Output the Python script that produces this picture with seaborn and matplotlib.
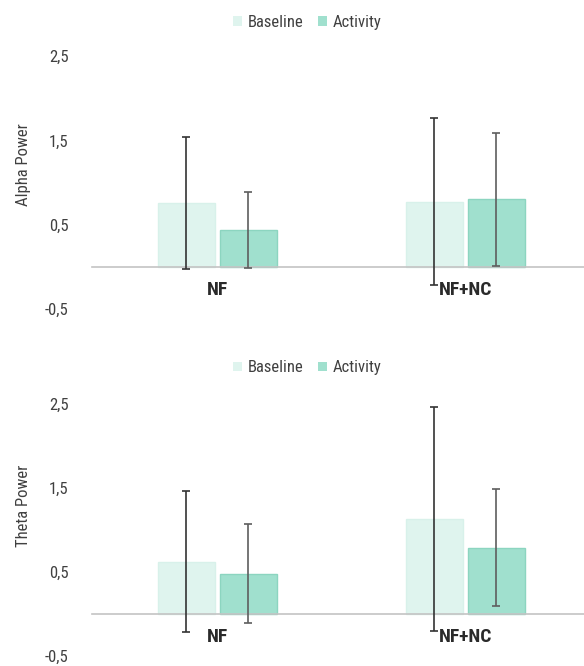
import matplotlib
matplotlib.use("Agg")
import matplotlib.pyplot as plt
import seaborn as sns
import pandas as pd
from matplotlib import font_manager

groups = ["NF", "NF+NC"]
conditions = ["Baseline", "Activity"]
alpha_baseline = [0.757, 0.77]
alpha_activity = [0.44, 0.80]
alpha_baseline_err = [0.78, 0.99]
alpha_activity_err = [0.45, 0.79]
theta_baseline = [0.62, 1.13]
theta_activity = [0.48, 0.79]
theta_baseline_err = [0.84, 1.33]
theta_activity_err = [0.59, 0.70]
yticks = [-0.5, 0.5, 1.5, 2.5]
ytick_labels = ["-0,5", "0,5", "1,5", "2,5"]

sns.set_theme(style="white")
names = {f.name for f in font_manager.fontManager.ttflist}
fam = "DejaVu Sans"
for cand in ["Liberation Sans Narrow", "Roboto Condensed", "Arial Narrow", "Open Sans Condensed",
             "DejaVu Sans Condensed", "Roboto", "Liberation Sans"]:
    if cand in names:
        fam = cand
        break
plt.rcParams["font.family"] = [fam, "DejaVu Sans"]

palette = {"Baseline": "#DFF4EE", "Activity": "#A0E0CE"}
edges = {"Baseline": "#D8F1EA", "Activity": "#8CD5C0"}
err_colors = {"Baseline": "#333333", "Activity": "#5E5E5E"}

fig = plt.figure(figsize=(5.84, 6.66), dpi=100)
ax1 = fig.add_axes([92 / 584, 1 - 309 / 666, 492 / 584, 253 / 666])
ax2 = fig.add_axes([92 / 584, 1 - 656 / 666, 492 / 584, 252 / 666])

panels = [
    (ax1, "Alpha Power", alpha_baseline, alpha_activity, alpha_baseline_err, alpha_activity_err, 0.569, 1.132),
    (ax2, "Theta Power", theta_baseline, theta_activity, theta_baseline_err, theta_activity_err, 0.595, 1.143),
]

for ax, label, base, act, berr, aerr, ly, legy in panels:
    df = pd.DataFrame({
        "group": groups * 2,
        "condition": ["Baseline"] * len(groups) + ["Activity"] * len(groups),
        "value": list(base) + list(act),
    })
    sns.barplot(data=df, x="group", y="value", hue="condition", hue_order=conditions,
                order=groups, palette=palette, saturation=1, width=0.5, gap=0.07,
                errorbar=None, ax=ax, legend=False, linewidth=1)
    for cont, cond, errs in zip(ax.containers, conditions, [berr, aerr]):
        xs, ys = [], []
        for p in cont.patches:
            p.set_edgecolor(edges[cond])
            xs.append(p.get_x() + p.get_width() / 2)
            ys.append(p.get_height())
        ax.errorbar(xs, ys, yerr=errs, fmt="none", ecolor=err_colors[cond], elinewidth=1.2,
                    capsize=3, capthick=1.2, zorder=5)
    ax.set_xlim(-0.506, 1.478)
    ax.set_ylim(-0.5, 2.5)
    ax.set_yticks(yticks)
    ax.set_yticklabels(ytick_labels, fontsize=12, color="#404040")
    ax.tick_params(axis="y", length=0, pad=17)
    for s in ["top", "right", "left"]:
        ax.spines[s].set_visible(False)
    ax.spines["bottom"].set_position(("data", 0))
    ax.spines["bottom"].set_color("#C4C4C4")
    ax.spines["bottom"].set_linewidth(1.2)
    ax.tick_params(axis="x", length=0, pad=10)
    ax.set_xticks(range(len(groups)))
    ax.set_xticklabels(groups, fontsize=14, fontweight="bold", color="#2A2A2A")
    ax.set_xlabel("")
    ax.set_ylabel(label, fontsize=12, color="#404040")
    ax.yaxis.set_label_coords(-0.124, ly)
    handles = [plt.Rectangle((0, 0), 1, 1, facecolor=palette[c], edgecolor="none") for c in conditions]
    ax.legend(handles, conditions, loc="center", bbox_to_anchor=(0.438, legy), ncol=2,
              frameon=False, fontsize=12, handlelength=0.5, handleheight=0.5,
              handletextpad=0.36, columnspacing=0.9, labelcolor="#404040")

fig.savefig("out.png", dpi=100)
